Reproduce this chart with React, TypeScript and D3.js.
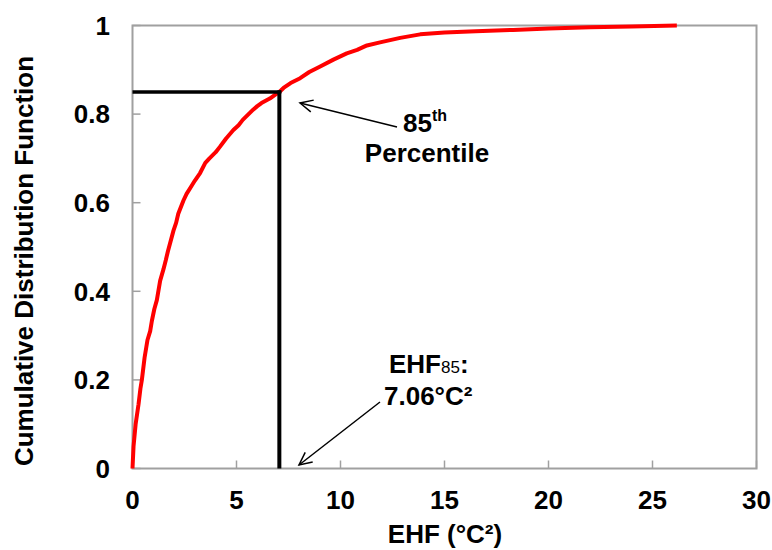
import React from "react";
import * as d3 from "d3";

const ehfValues = [0, 0.05, 0.15, 0.29, 0.38, 0.45, 0.58, 0.72, 0.85, 0.93, 1.05, 1.17, 1.33, 1.49, 1.6, 1.7, 1.97, 2.1, 2.2, 2.45, 2.6, 2.8, 3.0, 3.25, 3.5, 3.7, 4.0, 4.2, 4.5, 4.85, 5.1, 5.3, 5.8, 6.0, 6.2, 6.6, 6.95, 7.06, 7.26, 7.6, 8.06, 8.5, 9.0, 9.66, 10.3, 10.8, 11.27, 11.9, 12.87, 13.83, 15.0, 16.5, 18.3, 20.0, 22.0, 24.0, 26.17];
const cdfValues = [0, 0.05, 0.1, 0.145, 0.18, 0.2, 0.25, 0.29, 0.31, 0.333, 0.36, 0.38, 0.424, 0.45, 0.47, 0.49, 0.537, 0.555, 0.575, 0.605, 0.62, 0.635, 0.65, 0.667, 0.69, 0.7, 0.714, 0.726, 0.745, 0.764, 0.775, 0.787, 0.81, 0.818, 0.825, 0.835, 0.847, 0.85, 0.859, 0.87, 0.881, 0.895, 0.907, 0.923, 0.937, 0.945, 0.955, 0.962, 0.972, 0.98, 0.984, 0.987, 0.99, 0.993, 0.996, 0.998, 1.0];
const xTicks = [0, 5, 10, 15, 20, 25, 30];
const yTicks = [0, 0.2, 0.4, 0.6, 0.8, 1];
const percentileX = 7.06;
const percentileY = 0.85;

const FONT = "'Liberation Sans', Arial, Helvetica, sans-serif";

function arrowHead(x1: number, y1: number, x2: number, y2: number, len = 14, ang = 0.45) {
  const a = Math.atan2(y2 - y1, x2 - x1);
  const p1 = [x2 - len * Math.cos(a - ang), y2 - len * Math.sin(a - ang)];
  const p2 = [x2 - len * Math.cos(a + ang), y2 - len * Math.sin(a + ang)];
  return `M${p1[0]},${p1[1]}L${x2},${y2}L${p2[0]},${p2[1]}`;
}

export default function App() {
  const W = 772, H = 550;
  const left = 132.5, right = 756.5, top = 25.5, bottom = 468.5;
  const x = d3.scaleLinear().domain([0, 30]).range([left, right]);
  const y = d3.scaleLinear().domain([0, 1]).range([bottom, top]);
  const pts: [number, number][] = ehfValues.map((v, i) => [v, cdfValues[i]]);
  const line = d3.line<[number, number]>().x(d => x(d[0])).y(d => y(d[1]));

  const px = x(percentileX), py = y(percentileY);
  const a1 = { x1: 397, y1: 127, x2: 300, y2: 103 };
  const a2 = { x1: 380, y1: 402, x2: 299, y2: 465 };
  const FS = 26;

  return (
    <svg width={W} height={H} style={{ position: "absolute", left: 0, top: 0 }} fontFamily={FONT} fontWeight="bold">
      <rect x={0} y={0} width={W} height={H} fill="#fff" />
      <rect x={left} y={top} width={right - left} height={bottom - top} fill="none" stroke="#a0a0a0" strokeWidth={2} />
      {yTicks.map(t => (
        <line key={"yt" + t} x1={left} x2={left + 8} y1={y(t)} y2={y(t)} stroke="#a0a0a0" strokeWidth={1.5} />
      ))}
      {xTicks.map(t => (
        <line key={"xt" + t} x1={x(t)} x2={x(t)} y1={bottom} y2={bottom - 8} stroke="#a0a0a0" strokeWidth={1.5} />
      ))}
      {yTicks.map(t => (
        <text key={"yl" + t} x={110} y={y(t)} dy="0.36em" textAnchor="end" fontSize={FS} fill="#000">
          {d3.format("~g")(t)}
        </text>
      ))}
      {xTicks.map(t => (
        <text key={"xl" + t} x={x(t)} y={508.5} textAnchor="middle" fontSize={FS} fill="#000">
          {t}
        </text>
      ))}
      <text x={445} y={543} textAnchor="middle" fontSize={FS} fill="#000">
        EHF (°C²)
      </text>
      <text transform={`translate(33,261) rotate(-90)`} textAnchor="middle" fontSize={FS} fill="#000">
        Cumulative Distribution Function
      </text>
      <path d={line(pts) || ""} fill="none" stroke="#ff0000" strokeWidth={4} strokeLinejoin="round" />
      <line x1={left} x2={px + 2} y1={py} y2={py} stroke="#000" strokeWidth={3.5} />
      <line x1={px} x2={px} y1={py - 1.5} y2={bottom} stroke="#000" strokeWidth={4} />
      <line x1={a1.x1} y1={a1.y1} x2={a1.x2} y2={a1.y2} stroke="#000" strokeWidth={1.5} />
      <path d={arrowHead(a1.x1, a1.y1, a1.x2, a1.y2)} fill="none" stroke="#000" strokeWidth={1.5} />
      <line x1={a2.x1} y1={a2.y1} x2={a2.x2} y2={a2.y2} stroke="#000" strokeWidth={1.5} />
      <path d={arrowHead(a2.x1, a2.y1, a2.x2, a2.y2)} fill="none" stroke="#000" strokeWidth={1.5} />
      <text x={403} y={132} fontSize={FS} fill="#000">
        85<tspan fontSize={16} dy={-11}>th</tspan>
      </text>
      <text x={427} y={162} textAnchor="middle" fontSize={FS} fill="#000">
        Percentile
      </text>
      <text x={389} y={373} fontSize={FS} fill="#000">
        EHF<tspan fontSize={17} fontWeight="normal">85</tspan>:
      </text>
      <text x={384} y={405} fontSize={FS} fill="#000">
        7.06°C²
      </text>
    </svg>
  );
}
